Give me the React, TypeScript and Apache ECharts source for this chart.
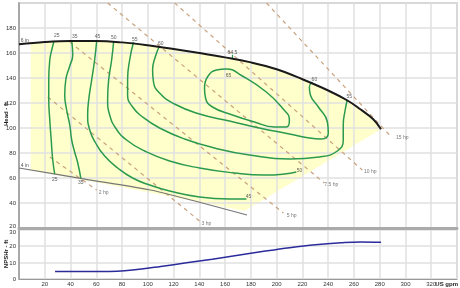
import React, { useEffect, useRef } from "react";
import * as echarts from "echarts";

// ---- data (US gpm, ft) ----
const impeller6in = [[0,167],[20,168.8],[40,169.6],[60,169.6],[80,168.5],[100,166.2],[120,163.2],[140,160],[160,156.5],[180,152.5],[200,147],[220,139],[240,130],[255,122],[265,115],[275,107],[281,99]];
const impeller4in = [[0,68],[50,59.3],[101,50.6],[135,42],[177,30.4]];

const yellowZone = [[9.1,168.3],[20,168.8],[40,169.6],[60,169.6],[80,168.5],[100,166.2],[120,163.2],[140,160],[160,156.5],[180,152.5],[200,147],[220,139],[240,130],[255,122],[265,115],[275,107],[281,99],[175,33.6],[140,40.8],[101.4,48.4],[62.6,56],[9.1,66]];

const eff25 = [[27,168.8],[25.4,162.4],[23.9,154.4],[23.1,138.4],[23.1,122.4],[23.9,106.4],[25,90.4],[26.2,74.4],[27.7,63.3]];
const eff35 = [[40.9,169.6],[41.7,158.4],[39.4,149.6],[36.3,138.4],[35.5,126.4],[37,114.4],[39.4,102.4],[40.9,90.4],[43.2,80.8],[45.6,72],[48,59.8]];
const eff45 = [[60.3,169.6],[58.7,154.4],[56.4,138.4],[54.1,122.4],[53.3,110.4],[54.9,98.4],[59.5,88],[66.5,77.6],[76.6,68],[88.2,60],[101.4,54.4],[116.9,49.6],[140.1,44.8],[163.4,43.2],[176.5,43.2]];
const eff50 = [[73.5,169.6],[71.9,154.4],[69.6,138.4],[68.8,122.4],[70.4,110.4],[75,100],[83.5,90.4],[97.5,81.6],[116.9,73.6],[140.1,68],[167.2,64],[190.5,62.4],[206,63.2],[215.3,64.8]];
const eff55 = [[88.9,168.8],[85.9,154.4],[84.3,138.4],[84.3,126.4],[88.2,116.8],[95.9,108.8],[109.1,100],[128.5,91.2],[151.8,84],[178.9,78.4],[209.9,75.2],[233.1,76.8],[247.1,81.6],[251.7,90.4],[251.7,102.4],[253.2,114.4],[254.8,122.4]];
const eff60 = [[109.1,165.6],[106,157.6],[103.7,146.4],[104.4,136.8],[109.1,128],[120.7,119.2],[140.1,111.2],[163.4,105.6],[186.6,100],[209.9,95.2],[225.4,92],[234.7,91.2],[240.1,96],[239.4,104.8],[232.4,116.8],[226.2,126.4],[225.4,132.8],[227.7,136.8]];
const eff65 = [[144,132],[146.3,140.8],[153.3,146.4],[161,147.2],[173.4,141.6],[192,128.8],[204.4,116],[209.9,106.4],[207.6,100.8],[198.3,100.8],[182.8,104.8],[165.7,110.4],[150.2,116.8],[144.8,124],[144,132]];
const bepTick = [[165.7,155.6],[165.7,158.6]];

const hp15 = [[192.1,200],[289,92.8]];
const hp10 = [[120.8,200],[266.5,66.4]];
const hp7_5 = [[68.8,200],[237,56]];
const hp5 = [[39.4,168.8],[205.3,32]];
const hp3 = [[22.3,124.8],[140.2,25.6]];
const hp2 = [[23.9,76.8],[60.3,50.4]];

const effLabels = [[29.3,174.4,"25"],[43.3,173.6,"35"],[61,173.6,"45"],[73.5,172.8,"50"],[89.8,171.2,"55"],[110,168,"60"],[165.7,160.8,"64.5"],[162.6,142.4,"65"],[229.3,139.2,"60"],[256.4,125.6,"55"],[217.7,66.4,"50"],[178.1,45.6,"45"],[27.7,59.2,"25"],[47.9,56.8,"35"]];
const hpLabels = [[297.5,92.8,"15 hp"],[272.7,65.6,"10 hp"],[242.4,55.2,"7.5 hp"],[211.6,30.4,"5 hp"],[145.5,24,"3 hp"],[65.7,48.8,"2 hp"]];
const impellerLabels = [[4.5,170.4,"6 in"],[4.5,70.4,"4 in"]];

const npshr = [[28,4.5],[50,4.5],[70,4.6],[82,5],[95,6],[110,7.6],[130,9.8],[150,12],[170,14.4],[190,16.8],[210,19],[230,20.8],[250,22],[265,22.5],[281,22.3]];

const FONT = "Liberation Sans";
const GREEN = "#2b9a4f";
const HP = "#c9a27e";

function lineSeries(data: number[][], color: string, width: number, extra: any = {}) {
  return {
    type: "line", data, xAxisIndex: 0, yAxisIndex: 0, symbol: "none", silent: true,
    lineStyle: { color, width }, ...extra,
  };
}

function labelSeries(data: any[], color: string, size: number, weight = "normal") {
  return {
    type: "scatter", xAxisIndex: 0, yAxisIndex: 0, symbolSize: 1, silent: true, z: 5,
    itemStyle: { color: "rgba(0,0,0,0)" },
    data,
    label: {
      show: true, position: "inside", color, fontSize: size, fontFamily: FONT, fontWeight: weight,
      formatter: (p: any) => p.value[2],
    },
  };
}

const titleFont = `bold 6px "${FONT}"`;

export default function App() {
  const ref = useRef<HTMLDivElement>(null);
  useEffect(() => {
    if (!ref.current) return;
    const chart = echarts.init(ref.current, undefined, { renderer: "svg" });
    const splitLine = { show: true, lineStyle: { color: "#e0e0e0", width: 1.5 } };
    const option: any = {
      animation: false,
      grid: [
        { left: 19, top: 3, width: 438, height: 225, show: true, borderColor: "#aaa", borderWidth: 1.5, containLabel: false, outerBoundsMode: "none" },
        { left: 19, top: 229.5, width: 438, height: 49.5, show: true, borderColor: "#aaa", borderWidth: 1, containLabel: false, outerBoundsMode: "none" },
      ],
      graphic: [
        { type: "text", x: 6, y: 114, rotation: Math.PI / 2, silent: true,
          style: { text: "Head - ft", font: titleFont, fill: "#222", align: "center", verticalAlign: "middle" } },
        { type: "text", x: 6, y: 254, rotation: Math.PI / 2, silent: true,
          style: { text: "NPSHr - ft", font: titleFont, fill: "#222", align: "center", verticalAlign: "middle" } },
        { type: "text", x: 458, y: 281, silent: true,
          style: { text: "US gpm", font: titleFont, fill: "#222", align: "right", verticalAlign: "top" } },
      ],
      xAxis: [
        {
          type: "value", gridIndex: 0, min: 0, max: 340, interval: 20, z: 1,
          axisLabel: { show: false }, axisTick: { show: false },
          axisLine: { show: true, lineStyle: { color: "#aaa", width: 3 } },
          splitLine,
        },
        {
          type: "value", gridIndex: 1, min: 0, max: 340, interval: 20, z: 1,
          axisTick: { show: false },
          axisLine: { show: true, lineStyle: { color: "#999", width: 1 } },
          axisLabel: {
            fontSize: 6, color: "#333", fontFamily: FONT, margin: 2,
            formatter: (v: number) => (v === 0 || v === 340 ? "" : String(v)),
          },
          splitLine,
        },
      ],
      yAxis: [
        {
          type: "value", gridIndex: 0, min: 20, max: 200, interval: 20, z: 1,
          axisTick: { show: false },
          axisLine: { show: true, lineStyle: { color: "#999", width: 1.5 } },
          axisLabel: {
            fontSize: 6, color: "#333", fontFamily: FONT, margin: 3,
            formatter: (v: number) => (v === 200 ? "" : v === 20 ? "{lo|20}" : String(v)),
            rich: { lo: { fontSize: 6, fontFamily: FONT, color: "#333", padding: [0, 0, 5, 0] } },
          },
          splitLine,
        },
        {
          type: "value", gridIndex: 1, min: 0, max: 30, interval: 10, z: 1,
          axisTick: { show: false },
          axisLine: { show: true, lineStyle: { color: "#999", width: 1.5 } },
          axisLabel: {
            fontSize: 6, color: "#333", fontFamily: FONT, margin: 3,
            formatter: (v: number) => (v === 30 ? "{hi|30}" : String(v)),
            rich: { hi: { fontSize: 6, fontFamily: FONT, color: "#333", padding: [5, 0, 0, 0] } },
          },
          splitLine,
        },
      ],
      series: [
        {
          type: "custom", xAxisIndex: 0, yAxisIndex: 0, z: 0, silent: true,
          data: yellowZone,
          renderItem: (params: any, api: any) => {
            if (params.dataIndex !== 0) return null;
            return {
              type: "polygon",
              shape: { points: yellowZone.map((p) => api.coord(p)) },
              style: { fill: "#ffffcc" },
            };
          },
        },
        ...[hp15, hp10, hp7_5, hp5, hp3, hp2].map((d) => lineSeries(d, HP, 1.2, { lineStyle: { color: HP, width: 1.2, type: [4, 4] } })),
        lineSeries(impeller4in, "#777", 1.2, { smooth: 0.3 }),
        ...[eff25, eff35, eff45, eff50, eff55, eff60, eff65].map((d) => lineSeries(d, GREEN, 1.5, { smooth: 0.5 })),
        lineSeries(bepTick, GREEN, 1.2),
        lineSeries(impeller6in, "#1a1a1a", 2, { smooth: 0.4 }),
        labelSeries(effLabels, "#333", 5),
        labelSeries(hpLabels, "#555", 5),
        labelSeries(impellerLabels, "#222", 5),
        {
          type: "line", data: npshr, xAxisIndex: 1, yAxisIndex: 1, symbol: "none", silent: true, smooth: 0.4,
          lineStyle: { color: "#2b2b9b", width: 1.5 },
        },
      ],
    };
    chart.setOption(option);
    return () => chart.dispose();
  }, []);
  return <div ref={ref} style={{ position: "fixed", left: 0, top: 0, width: 460, height: 288 }} />;
}
